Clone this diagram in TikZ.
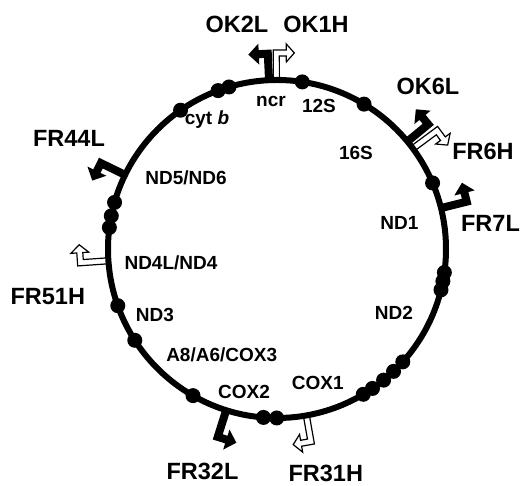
\documentclass[tikz,border=0pt]{standalone}
\usepackage{fontspec}
\setmainfont{Liberation Sans}
\begin{document}
\begin{tikzpicture}[x=1pt,y=1pt,
  inner/.style={font=\fontsize{19}{19}\selectfont\bfseries, inner sep=0pt, anchor=base},
  outer/.style={font=\fontsize{23.5}{23.5}\selectfont\bfseries, inner sep=0pt, anchor=base},
  genome/.style={line width=6pt},
  % L-strand promoter: solid bent arrow, stem radial, head counter-clockwise
  pics/lprom/.style={code={
    \fill[black] (0,-4) -- (#1+4,-4) -- (#1+4,9) -- (#1+10.5,9) -- (#1,19.5)
      -- (#1-10.5,9) -- (#1-4,9) -- (#1-4,4) -- (0,4) -- cycle;
  }},
  % H-strand promoter: open bent arrow, head clockwise
  pics/hprom/.style={code={
    \filldraw[fill=white,draw=black,line width=1.2pt] (0,3) -- (#1+3,3) -- (#1+3,-10)
      -- (#1+9,-10) -- (#1,-18) -- (#1-9,-10) -- (#1-3,-10) -- (#1-3,-3) -- (0,-3) -- cycle;
  }},
]
\useasboundingbox (0,0) rectangle (520,486);
\coordinate (C) at (277,237);

% promoters
\path (C) ++(92.7:169) pic[rotate=92.7] {lprom=26.5};
\path (C) ++(90.2:169) pic[rotate=90.2] {hprom=27};
\path (C) ++(39.5:169) pic[rotate=39.5] {lprom=27};
\path (C) ++(36.5:169) pic[rotate=36.5] {hprom=30};
\path (C) ++(14:169) pic[rotate=14] {lprom=26.5};
\path (C) ++(154:169) pic[rotate=154] {lprom=27};
\path (C) ++(184:169) pic[rotate=184] {hprom=28};
\path (C) ++(252.5:169) pic[rotate=252.5] {lprom=28};
\path (C) ++(280:169) pic[rotate=280] {hprom=26.5};

% genome circle and gene boundaries
\draw[genome] (C) circle[radius=169];
\foreach \a in {124.8,110.4,106.5,81.4,59,23,-8,-11,-14,-41.9,-46.4,-50.9,-55.6,-59.3,
                265.4,269.9,240.2,212.7,199.6,164,168.7,172.7}
  \fill (C) ++(\a:169) circle[radius=7.5];

% gene labels
\node[inner] (ncr) at (271,379) {ncr};
\node[inner] (s12) at (319,373) {12S};
\node[inner] (s16) at (356,326) {16S};
\node[inner] (nd1) at (399.5,256) {ND1};
\node[inner] (nd2) at (394,166) {ND2};
\node[inner] (cox1) at (317.7,96) {COX1};
\node[inner] (cox2) at (244,87.7) {COX2};
\node[inner] (atp) at (221.7,124.3) {A8/A6/COX3};
\node[inner] (nd3) at (155,164.3) {ND3};
\node[inner] (nd4) at (171,216) {ND4L/ND4};
\node[inner] (nd5) at (186,301) {ND5/ND6};
\node[inner] (cytb) at (207,361) {cyt \textit{b}};

% promoter labels
\node[outer] (ok2l) at (237,453) {OK2L};
\node[outer] (ok1h) at (316,453) {OK1H};
\node[outer] (ok6l) at (428,391) {OK6L};
\node[outer] (fr6h) at (483,326) {FR6H};
\node[outer] (fr7l) at (490.5,254) {FR7L};
\node[outer] (fr44l) at (69,339.3) {FR44L};
\node[outer] (fr51h) at (47.8,181) {FR51H};
\node[outer] (fr32l) at (202.5,6) {FR32L};
\node[outer] (fr31h) at (325.8,4.5) {FR31H};
\end{tikzpicture}
\end{document}
